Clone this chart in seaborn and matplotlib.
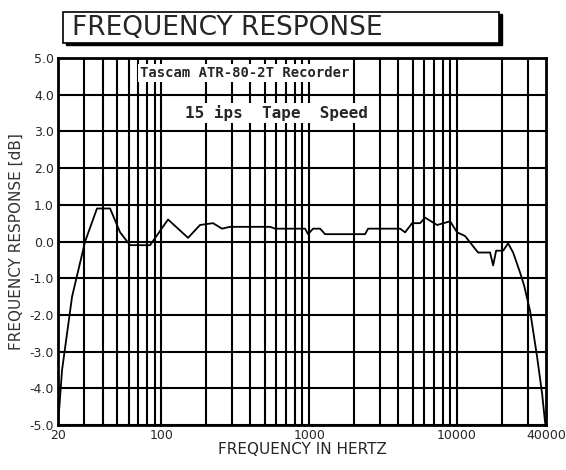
import numpy as np
import pandas as pd
import matplotlib
matplotlib.use("Agg")
import matplotlib.pyplot as plt
import seaborn as sns
from matplotlib.patches import Rectangle

# valores
freq_hz = [20, 21.3, 24.9, 30.5, 36.7, 45, 52.6, 61.4, 83.9, 111, 151.6, 182.7,
           223.7, 257, 291, 544, 588, 938, 983, 1063, 1185, 1281, 2389, 2503,
           4121, 4455, 4969, 5628, 6084, 7335, 8982, 10015, 11340, 13260, 13890,
           16740, 17550, 18390, 20510, 22160, 23960, 26720, 28440, 31230, 34830,
           37650, 39460]
respuesta_db = [-5.0, -3.5, -1.5, 0.0, 0.9, 0.9, 0.25, -0.1, -0.1, 0.6, 0.1, 0.45,
                0.5, 0.35, 0.4, 0.4, 0.35, 0.35, 0.2, 0.35, 0.35, 0.2, 0.2, 0.35,
                0.35, 0.25, 0.5, 0.5, 0.65, 0.45, 0.55, 0.25, 0.15, -0.2, -0.3,
                -0.3, -0.65, -0.25, -0.25, -0.05, -0.3, -0.85, -1.2, -1.9, -3.15,
                -4.15, -4.95]

ticks_x = [20, 100, 1000, 10000, 40000]
etiquetas_x = ["20", "100", "1000", "10000", "40000"]
ticks_y = [5, 4, 3, 2, 1, 0, -1, -2, -3, -4, -5]
etiquetas_y = ["5.0", "4.0", "3.0", "2.0", "1.0", "0.0", "-1.0", "-2.0", "-3.0", "-4.0", "-5.0"]

df = pd.DataFrame({"Frecuencia": freq_hz, "Respuesta": respuesta_db})

sns.set_style("white")
plt.rcParams["font.family"] = ["DejaVu Sans"]

fig = plt.figure(figsize=(5.66, 4.70), dpi=100)
ax = fig.add_axes([0.1025, 0.0957, 0.8622, 0.7809])

# rejilla logarítmica
grid_x = [20, 30, 40, 50, 60, 70, 80, 90, 100, 200, 300, 400, 500, 600, 700, 800, 900,
          1000, 2000, 3000, 4000, 5000, 6000, 7000, 8000, 9000, 10000, 20000, 30000]
for g in grid_x:
    ax.axvline(g, color="black", lw=1.5, zorder=1)
for g in ticks_y:
    ax.axhline(g, color="black", lw=1.5, zorder=1)

sns.lineplot(data=df, x="Frecuencia", y="Respuesta", color="black", lw=1.3, ax=ax, zorder=3)

ax.set_xscale("log")
ax.set_xlim(20, 40000)
ax.set_ylim(-5, 5)
ax.set_xticks(ticks_x)
ax.set_xticklabels(etiquetas_x, fontsize=9)
ax.xaxis.set_minor_locator(matplotlib.ticker.NullLocator())
ax.set_yticks(ticks_y)
ax.set_yticklabels(etiquetas_y, fontsize=9)
ax.tick_params(length=0, pad=3)
for s in ax.spines.values():
    s.set_linewidth(2)
    s.set_color("black")

ax.set_xlabel("FREQUENCY IN HERTZ", fontsize=11, labelpad=0)
ax.set_ylabel("FREQUENCY RESPONSE [dB]", fontsize=11, labelpad=4, color="#333333")

caja = dict(facecolor="white", edgecolor="none", pad=1.5)
ax.text(368, 4.58, "Tascam ATR-80-2T Recorder", family="DejaVu Sans Mono",
        weight="bold", fontsize=10, ha="center", va="center", bbox=caja, zorder=4)
ax.text(600, 3.49, "15 ips  Tape  Speed", family="DejaVu Sans Mono",
        weight="bold", fontsize=11.5, ha="center", va="center", bbox=caja, zorder=4)

# cuadro del título con sombra
fig.patches.append(Rectangle((66 / 566, 1 - 45 / 470), 436 / 566, 31 / 470,
                             transform=fig.transFigure, facecolor="black", edgecolor="black"))
fig.patches.append(Rectangle((63 / 566, 1 - 43 / 470), 436 / 566, 31 / 470,
                             transform=fig.transFigure, facecolor="white", edgecolor="black", lw=1.2))
fig.text(72 / 566, 1 - 28 / 470, "FREQUENCY RESPONSE", fontsize=19, ha="left", va="center")

fig.savefig("out.png", dpi=100)
